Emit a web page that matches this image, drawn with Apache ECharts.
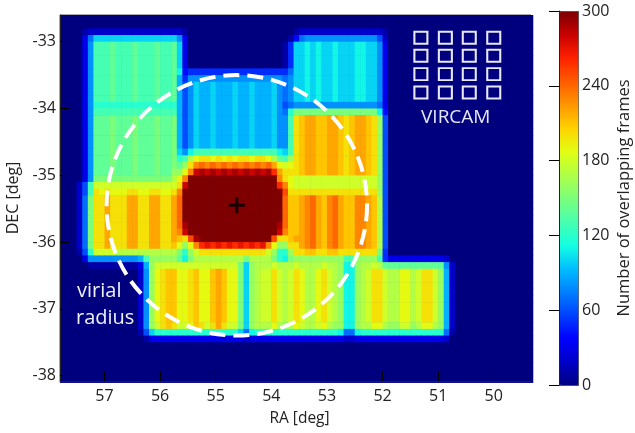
<!DOCTYPE html>
<html><head><meta charset="utf-8">
<style>html,body{margin:0;padding:0;background:#fff}#c{width:635px;height:433px}</style>
<script src="https://cdn.jsdelivr.net/npm/echarts@6/dist/echarts.min.js"></script>
</head><body><div id="c"></div>
<script>
// Tick labels
const raTicks = [57,56,55,54,53,52,51,50];
const decTicks = [-33,-34,-35,-36,-37,-38];
const barMax = 300;
// Map rows: north to south, 0.1 deg cells; columns run from RA 57.8 to the west.
// One symbol = tens of overlapping frames (0-9, a=100 ... u=300). Missing cells are 0.
const coverageRows = [
"",
"",
"0000122222 2222222222 2210000000 0000000000 0012222222 2222222210",
"000037aaaa aaaaaaaaaa a830000000 0000000000 0147888888 8888888620",
"000038ddde dddedddedd ea30000000 0000000000 15aababaab aaabbaa830",
"000038ddde dddedddedd ea30000000 0000000000 15aababaab aaabbaa830",
"000038ddde dddedddedd ea30000000 0000000000 15aababaab aaabbaa830",
"000038ddde dddedddedd ea30000000 0000000000 15aababaab aaabbaa830",
"000038ddde dddedddedd eb45555555 5555555555 57aababaab aaabbaa830",
"000038ddde dddedddedd e958888888 8888888888 78aababaab aaabbaa830",
"000038ddde dddedddedd e968a99a99 9a99a999a8 78aababaab aaabbaa830",
"000038ddde dddedddedd e968a99a99 9a99a999a8 78aababaab aaabbaa830",
"000038ddde dddedddedd e968a99a99 9a99a999a8 78aababaab aaabbaa830",
"000038cccc cccccccccc c968a99a99 9a99a999a8 6788888888 8888888730",
"000038dddd dddddddddd d968a99a99 9a99a999a8 7cffffffff fffffffb40",
"000038eeef eeefeeefee f968a99a99 9a99a999a8 8dklmmllmm lklmmlkg60",
"000038eeef eeefeeefee f968a99a99 9a99a999a8 8dklmmllmm lklmmlkg60",
"000038eeef eeefeeefee f968a99a99 9a99a999a8 8dklmmllmm lklmmlkg60",
"000038eeef eeefeeefee f968a99a99 9a99a999a8 8dklmmllmm lklmmlkg60",
"000038eeef eeefeeefee f968a99a99 9a99a999a8 8dklmmllmm lklmmlkg60",
"000038eeef eeefeeefee fa8bdddddd dddddddddb adklmmllmm lklmmlkg60",
"000038eeef eeefeeefee fcdhjkkjkj kjkkjkkjhe dgklmmllmm lklmmlkg60",
"000038eeef eeefeeefee fegknonono nonononomj ijklmmllmm lklmmlkg60",
"000038eeef eeefeeefee ggjnststst ststststqm kkklmmllmm lklmmlkg60",
"000038ffff ffffffffff hjnuuuuuuu uuuuuuuuun kjiiiiiiii iiiiiiig60",
"00026diiii iiiiiiiiii iksuuuuuuu uuuuuuuuuq njiiiiiiii iiiiiiig60",
"00026dkjkj jjkkjjkkjj knuuuuuuuu uuuuuuuuuu pkkkkkkkkk kkkkkkkg60",
"00027fkkmk kkmmkkmmkk mouuuuuuuu uuuuuuuuuu ollmnomlno mllnnmlh60",
"00027fkkmk kkmmkkmmkk mouuuuuuuu uuuuuuuuuu ollmnomlno mllnnmlh60",
"00027fkkmk kkmmkkmmkk mouuuuuuuu uuuuuuuuuu ollmnomlno mllnnmlh60",
"00027fkkmk kkmmkkmmkk mouuuuuuuu uuuuuuuuuu ollmnomlno mllnnmlh60",
"00027fkkmk kkmmkkmmkk motuuuuuuu uuuuuuuuut ollmnomlno mllnnmlh60",
"00027fkkmk kkmmkkmmkk mnsuuuuuuu uuuuuuuuus nllmnomlno mllnnmlh60",
"00027fkkmk kkmmkkmmkk mlkptuuuuu uuuuuuuupk klmmnomlno mllnnmlh60",
"00027fkkmk kkmmkkmmkk ljgjnqrqrq rqrqrqrnjg gkkmnomlno mllnnmlh60",
"00016ciiii hhhhhhhhhh hfcgikkkkk kkkkkkkigc cgkkllkkll kkkkkkkf50",
"0000388888 88889dgggg gebfhhhhhh hhhfhhhhfc bfgggggggg gddggggd53 3333333332",
"0000011111 111139giii iiiiiiiiii iifaghhhih hhihhhhihh gbbghhihee eeeeeeeee8 2",
"0000000000 000028gjkl ljjkljjlml jjfaghiiki hikjhhjkih gbbghikkih hjjhikkig9 2",
"0000000000 000028gjkl ljjkljjlml jjfaghiiki hikjhhjkih gbbghikkih hjjhikkig9 2",
"0000000000 000028gjkl ljjkljjlml jjfaghiiki hikjhhjkih gbbghikkih hjjhikkig9 2",
"0000000000 000028gjkl ljjkljjlml jjfaghiiki hikjhhjkih gbbghikkih hjjhikkig9 2",
"0000000000 000028gjkl ljjkljjlml jjfaghiiki hikjhhjkih gbbghikkih hjjhikkig9 2",
"0000000000 000028gjkl ljjkljjlml jjfaghiiki hikjhhjkih gbbghikkih hjjhikkig9 2",
"0000000000 000028gjkl ljjkljjlml jjfaghiiki hikjhhjkih gbbghikkih hjjhikkig9 2",
"0000000000 000028gjkl ljjkljjlml jjfaghiiki hikjhhjkih gbbghikkih hjjhikkig9 2",
"0000000000 000028gikl kiijlkikmk iifaghhhjh ghjihhijhg gbbghhjjhg giighjjhg9 2",
"0000000000 000016accc cccccccccc cca7bccccc cccccccccc b77bcccccc ccccccccc7 1",
"0000000000 0000013333 3333333333 3332333333 3333333333 3223333333 3333333332",
"","","","","",""
];
const mapCols = 85;
const cellDeg = 0.1;
const firstRa = 57.75;
const firstDec = -32.65;
// VIRCAM detector footprint
const detectorRa = [51.31,50.87,50.44,50.0];
const detectorDec = [-32.94,-33.21,-33.485,-33.76];
// Cluster centre and virial radius (deg)
const centre = [54.62,-35.45];
const virialRadius = 1.95;

const cells = [];
coverageRows.forEach(function(row,j){
  const s = row.replace(/ /g,'');
  for(let i=0;i<mapCols;i++){
    const ch = i<s.length ? s[i] : '0';
    cells.push([+(firstRa-cellDeg*i).toFixed(2), +(firstDec-cellDeg*j).toFixed(2), parseInt(ch,36)*10]);
  }
});
const detectors = [];
detectorDec.forEach(function(d){detectorRa.forEach(function(r){detectors.push([r,d]);});});

const font = 'Open Sans';
const ink = '#222';
const chart = echarts.init(document.getElementById('c'),null,{renderer:'canvas'});
chart.setOption({
  animation:false,
  backgroundColor:'#fff',
  textStyle:{fontFamily:font},
  grid:[
    {left:60,top:15,width:471,height:366,show:true,borderColor:'#555',borderWidth:1,backgroundColor:'#00007f',outerBoundsMode:'none',containLabel:false},
    {left:559,top:11,width:19,height:374,outerBoundsMode:'none',containLabel:false}
  ],
  xAxis:[
    {type:'value',inverse:true,min:49.33,max:57.8,z:5,scale:true,
     name:'RA [deg]',nameLocation:'middle',nameGap:30,
     nameTextStyle:{fontFamily:font,fontSize:15.5,color:ink,padding:[0,0,0,8]},
     axisLine:{show:true,onZero:false,lineStyle:{color:'#222',width:1}},
     axisTick:{show:true,inside:true,length:10,customValues:raTicks,lineStyle:{color:'#000',width:1}},
     axisLabel:{show:true,customValues:raTicks,fontFamily:font,fontSize:16,color:ink,margin:7},
     splitLine:{show:false}},
    {type:'value',gridIndex:1,show:false,min:0,max:1}
  ],
  yAxis:[
    {type:'value',min:-38.08,max:-32.6,z:5,scale:true,
     name:'DEC [deg]',nameLocation:'middle',nameGap:36,
     nameTextStyle:{fontFamily:font,fontSize:16,color:ink},
     axisLine:{show:true,onZero:false,lineStyle:{color:'#222',width:1}},
     axisTick:{show:true,inside:true,length:9,customValues:decTicks,lineStyle:{color:'#000',width:1}},
     axisLabel:{show:true,customValues:decTicks,fontFamily:font,fontSize:16,color:ink,margin:4},
     splitLine:{show:false}},
    {type:'value',gridIndex:1,position:'right',min:0,max:barMax,interval:60,z:10,
     name:'Number of overlapping frames',nameLocation:'middle',nameRotate:90,nameGap:38,
     nameTextStyle:{fontFamily:font,fontSize:16.5,color:ink},
     axisLine:{show:true,lineStyle:{color:'#222',width:1}},
     axisTick:{show:true,inside:true,length:10,lineStyle:{color:'#000',width:1}},
     axisLabel:{show:true,fontFamily:font,fontSize:16,color:ink,margin:4},
     splitLine:{show:false}}
  ],
  visualMap:{
    type:'continuous',seriesIndex:0,dimension:2,min:0,max:barMax,
    left:559,top:11,itemWidth:19,itemHeight:374,padding:0,
    calculable:false,hoverLink:false,text:null,
    borderColor:'#444',borderWidth:1,
    inRange:{color:['#00007f','#0000c8','#0000ff','#0040ff','#0080ff','#00bfff','#14ffe2','#48ffaf','#7bff7b','#afff48','#e2ff14','#ffd200','#ff9700','#ff5c00','#ff2100','#c80000','#7f0000']}
  },
  series:[
    {type:'custom',xAxisIndex:0,yAxisIndex:0,data:cells,clip:true,z:2,silent:true,
     encode:{x:0,y:1},
     renderItem:function(p,api){
       const c=api.coord([api.value(0),api.value(1)]);
       const s=api.size([cellDeg,cellDeg]);
       return {type:'rect',shape:{x:c[0]-s[0]/2,y:c[1]-s[1]/2,width:s[0]+0.6,height:s[1]+0.6},
               style:{fill:api.visual('color')}};
     }},
    {type:'custom',xAxisIndex:0,yAxisIndex:0,data:[[centre[0],centre[1],virialRadius]],clip:true,z:3,silent:true,
     encode:{x:0,y:1},
     renderItem:function(p,api){
       const c=api.coord([api.value(0),api.value(1)]);
       const r=api.size([0,api.value(2)])[1];
       return {type:'circle',shape:{cx:c[0],cy:c[1],r:r},
               style:{fill:'none',stroke:'#fff',lineWidth:4,lineDash:[16,8]}};
     }},
    {type:'scatter',xAxisIndex:0,yAxisIndex:0,data:[centre],z:4,silent:true,
     symbol:'path://M6.5 0h3v6.5h6.5v3H9.5V16h-3V9.5H0v-3h6.5z',symbolSize:16,
     itemStyle:{color:'#000'}},
    {type:'scatter',xAxisIndex:0,yAxisIndex:0,data:detectors,z:4,silent:true,
     symbol:'rect',symbolSize:[13,12],
     itemStyle:{color:'rgba(0,0,0,0)',borderColor:'#e8e8f4',borderWidth:2,opacity:1}}
  ],
  graphic:[
    {type:'text',z:20,left:421,top:108,style:{text:'VIRCAM',fill:'#e6e6f6',font:'19px "Open Sans"'}},
    {type:'text',z:20,left:77,top:281,style:{text:'virial',fill:'#f0f0fa',font:'20px "Open Sans"'}},
    {type:'text',z:20,left:76,top:308,style:{text:'radius',fill:'#f0f0fa',font:'20px "Open Sans"'}}
  ]
});
</script></body></html>
